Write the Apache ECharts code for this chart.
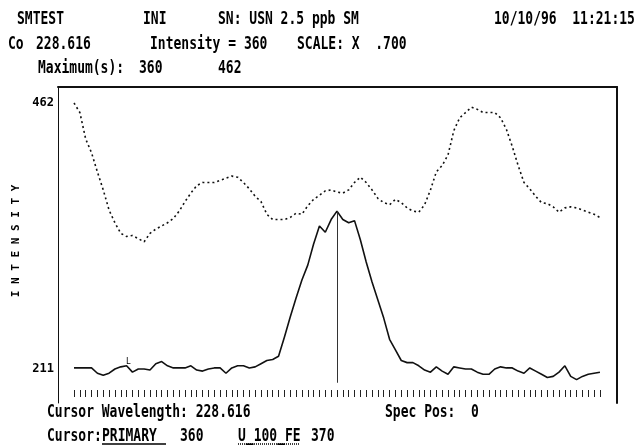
<!DOCTYPE html>
<html>
<head>
<meta charset="utf-8">
<script src="https://cdn.jsdelivr.net/npm/echarts@6/dist/echarts.min.js"></script>
<style>
html,body{margin:0;padding:0;background:#fff;}
#chart{width:637px;height:445px;}
</style>
</head>
<body>
<div id="chart"></div>
<script>
// spectrum point index (x positions)
const pointIndex = [];
for (let i = 0; i <= 90; i++) pointIndex.push(i);

// dotted trace (V_100_FE)
const refSpectrum = [462,453,428,415,397,380,361,349,339,336,337,334,331,339,343,346,349,353,360,369,
  377,384,387,387,387,389,391,393,392,387,381,374,369,357,352,352,352,354,358,357,
  365,371,375,379,380,378,377,380,387,392,387,380,372,368,366,371,368,363,360,359,
  366,380,397,403,413,436,448,453,458,456,453,453,453,448,437,421,403,387,381,374,
  368,367,364,359,363,364,363,361,359,357,354];

// solid trace (PRIMARY)
const sampleSpectrum = [212,212,212,212,207,205,207,211,213,214,208,211,211,210,216,218,214,212,212,212,
  214,210,209,211,212,212,207,212,214,214,212,213,216,219,220,223,241,260,278,295,
  309,329,346,340,352,360,352,349,351,333,312,293,276,259,239,229,219,217,217,214,
  210,208,213,209,206,213,212,211,211,208,206,206,211,213,212,212,209,207,212,209,
  206,203,204,208,214,204,201,204,206,207,208];

const yTickValues = [211, 462];
const cursorIndex = 45;
const cursorValue = 360;
const cursorFloor = 198;

const MONO = '"DejaVu Sans Mono", "Liberation Mono", monospace';

function txt(x, y, s, size) {
  return {
    type: 'text', x: x, y: y, scaleY: 1.3, silent: true,
    style: { text: s, font: 'bold ' + (size || 13) + 'px ' + MONO, fill: '#000', textVerticalAlign: 'top' }
  };
}

const chart = echarts.init(document.getElementById('chart'), null, { renderer: 'canvas' });

const xMin = -2.74, xMax = 92.92, yMin = 178.9, yMax = 477.1;

chart.setOption({
  animation: false,
  backgroundColor: '#fff',
  grid: { left: 58, right: 20, top: 87, bottom: 42, containLabel: false },
  xAxis: [
    {
      type: 'value', min: xMin, max: xMax, position: 'bottom', offset: -6,
      axisLine: { show: false, onZero: false },
      axisTick: { show: true, inside: true, length: 7, customValues: pointIndex, lineStyle: { color: '#222', width: 1 } },
      axisLabel: { show: false },
      splitLine: { show: false }
    },
    {
      type: 'value', min: xMin, max: xMax, position: 'top',
      axisLine: { show: true, onZero: false, lineStyle: { color: '#111', width: 2 } },
      axisTick: { show: false }, axisLabel: { show: false }, splitLine: { show: false }
    }
  ],
  yAxis: [
    {
      type: 'value', min: yMin, max: yMax, position: 'left',
      axisLine: { show: true, onZero: false, lineStyle: { color: '#111', width: 1 } },
      axisTick: { show: false },
      axisLabel: { customValues: yTickValues, margin: 4, color: '#000', fontWeight: 'bold', fontSize: 12, fontFamily: MONO },
      splitLine: { show: false },
      name: 'I N T E N S I T Y', nameLocation: 'middle', nameGap: 20, nameRotate: 90,
      nameTextStyle: { color: '#000', fontWeight: 'bold', fontSize: 11, fontFamily: MONO, padding: [0, 0, 0, 8] }
    },
    {
      type: 'value', min: yMin, max: yMax, position: 'right',
      axisLine: { show: true, onZero: false, lineStyle: { color: '#111', width: 2 } },
      axisTick: { show: false }, axisLabel: { show: false }, splitLine: { show: false }
    }
  ],
  series: [
    {
      name: 'V_100_FE', type: 'line', xAxisIndex: 0, yAxisIndex: 0,
      data: refSpectrum.map((v, i) => [pointIndex[i], v]),
      symbol: 'none', smooth: false,
      lineStyle: { color: '#111', width: 1.6, type: [2, 3] }
    },
    {
      name: 'PRIMARY', type: 'line', xAxisIndex: 0, yAxisIndex: 0,
      data: sampleSpectrum.map((v, i) => [pointIndex[i], v]),
      symbol: 'none', smooth: false,
      lineStyle: { color: '#111', width: 1.6 },
      markLine: {
        silent: true, symbol: 'none', label: { show: false },
        lineStyle: { color: '#333', width: 1, type: 'solid' },
        data: [[{ coord: [cursorIndex, cursorValue] }, { coord: [cursorIndex, cursorFloor] }]]
      }
    }
  ],
  graphic: [
    txt(17, 11, 'SMTEST'),
    txt(143, 11, 'INI'),
    txt(218, 11, 'SN: USN 2.5 ppb SM'),
    txt(494, 11, '10/10/96  11:21:15'),
    txt(8, 36, 'Co'),
    txt(36, 36, '228.616'),
    txt(150, 36, 'Intensity = 360'),
    txt(297, 36, 'SCALE: X  .700'),
    txt(38, 60, 'Maximum(s):'),
    txt(139, 60, '360'),
    txt(218, 60, '462'),
    txt(47, 404, 'Cursor Wavelength: 228.616'),
    txt(385, 404, 'Spec Pos:  0'),
    txt(47, 428, 'Cursor:'),
    txt(102, 428, 'PRIMARY'),
    txt(180, 428, '360'),
    txt(238, 428, 'U_100_FE'),
    txt(311, 428, '370'),
    { type: 'line', silent: true, shape: { x1: 102, y1: 444, x2: 166, y2: 444 }, style: { stroke: '#000', lineWidth: 1.5 } },
    { type: 'line', silent: true, shape: { x1: 238, y1: 444, x2: 300, y2: 444 }, style: { stroke: '#000', lineWidth: 1.5, lineDash: [1, 1] } },
    { type: 'text', x: 126, y: 358, silent: true, style: { text: 'L', font: '8px ' + MONO, fill: '#000' } }
  ]
});
</script>
</body>
</html>
